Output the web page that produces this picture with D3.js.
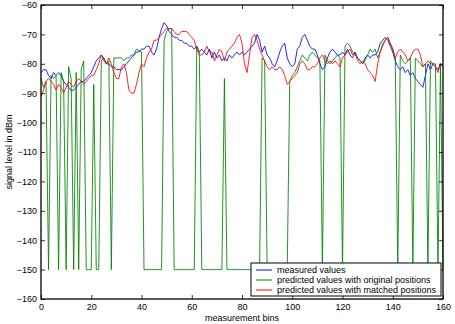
<!DOCTYPE html>
<html>
<head>
<meta charset="utf-8">
<script src="https://cdn.jsdelivr.net/npm/d3@7"></script>
<style>
  body { margin: 0; background: #fff; }
  svg { display: block; font-family: "Liberation Sans", Arial, sans-serif; }
</style>
</head>
<body>
<svg width="455" height="324"></svg>
<script>
// measurement bins 0..160
var measured = [
  -83,-82,-82,-84,-85,-83,-84,-83,-84,-86,-87,-88,-89,-89,-88,-87,-86,-86,-85,-84,
  -83,-81,-79,-78,-77,-78,-80,-80,-81,-81,-82,-82,-82,-81,-80,-79,-78,-77,-76,-76,
  -75,-75,-74,-74,-76,-77,-75,-71,-68,-66,-67,-69,-70,-71,-71,-72,-72,-73,-73,-74,
  -74,-75,-74,-76,-75,-76,-77,-75,-78,-76,-78,-77,-79,-78,-79,-77,-78,-77,-76,-77,
  -76,-77,-76,-75,-74,-73,-70,-72,-76,-74,-77,-78,-80,-81,-79,-76,-74,-73,-78,-80,
  -81,-80,-75,-74,-71,-70,-72,-74,-75,-75,-77,-80,-82,-81,-78,-76,-75,-76,-77,-77,
  -76,-77,-75,-77,-78,-76,-78,-79,-80,-78,-77,-78,-77,-77,-76,-73,-72,-71,-72,-74,
  -76,-79,-81,-82,-81,-83,-82,-84,-83,-85,-86,-87,-88,-84,-80,-82,-80,-81,-82,-80,
  -81
];

var predOriginal = [
  -85,-88,-86,-150,-84,-85,-84,-150,-83,-86,-150,-81,-85,-150,-83,-150,-82,-79,-150,-150,
  -150,-87,-150,-150,-79,-78,-80,-79,-150,-78,-78,-78,-78,-79,-78,-78,-77,-77,-75,-75.5,
  -76,-150,-150,-150,-150,-150,-150,-150,-150,-72,-69,-68,-68,-150,-150,-150,-150,-150,-150,-150,
  -150,-150,-74,-76,-150,-150,-150,-150,-150,-150,-150,-150,-150,-85,-150,-150,-150,-150,-150,-150,
  -150,-150,-150,-150,-150,-150,-150,-150,-78,-79,-150,-150,-150,-150,-150,-150,-150,-150,-150,-86,
  -84,-83,-81,-79,-77,-78,-79,-77,-76,-77,-78,-79,-150,-77,-79,-80,-79,-78,-77,-78,
  -150,-74,-73,-74,-76,-77,-78,-79,-80,-79,-77,-75,-76,-75,-78,-76,-73,-72,-71,-73,
  -75,-78,-150,-77,-79,-80,-79,-78,-150,-78,-79,-80,-81,-80,-150,-79,-80,-80,-150,-80,
  -150
];

var predMatched = [
  -91,-89,-86,-85,-86,-87,-89,-87,-88,-90,-88,-86,-87,-88,-86,-85,-86,-87,-86,-85,
  -84,-84,-82,-80,-77,-79,-80,-78,-80,-83,-85,-85,-81,-80,-83,-89,-90,-90,-87,-83,
  -80,-81,-78,-76,-75,-72,-72,-71,-70,-69,-68,-68,-68,-69,-70,-70,-69,-69,-69,-70,
  -71,-72,-75,-77,-77,-76,-74,-76,-76,-79,-77,-75,-76,-79,-76,-75,-74,-73,-71,-70,
  -73,-80,-83,-77,-71,-70,-72,-75,-77,-79,-81,-82,-81,-82,-82,-81,-82,-84,-87,-86,
  -85,-84,-83,-80,-79,-80,-82,-82,-81,-81,-80,-78,-77,-79,-80,-79,-80,-79,-80,-81,
  -78,-77,-76,-75,-77,-76,-79,-80,-79,-80,-82,-83,-84,-86,-80,-76,-74,-72,-71,-73,
  -75,-78,-76,-75,-76,-77,-79,-78,-76,-75,-75,-77,-81,-80,-79,-80,-80,-81,-83,-80,
  -81
];

var seriesNames = [
  'measured values',
  'predicted values with original positions',
  'predicted values with matched positions'
];
var seriesColors = ['#0000ff', '#008000', '#ff0000'];
var xTicks = [0, 20, 40, 60, 80, 100, 120, 140, 160];
var yTicks = [-160, -150, -140, -130, -120, -110, -100, -90, -80, -70, -60];

var plotLeft = 41, plotRight = 443, plotTop = 5, plotBottom = 299;

var svg = d3.select('svg');

var x = d3.scaleLinear().domain([0, 160]).range([plotLeft, plotRight]);
var y = d3.scaleLinear().domain([-160, -60]).range([plotBottom, plotTop]);

function fmt(d) { return d < 0 ? '\u2212' + Math.abs(d) : '' + d; }

// series
var allSeries = [measured, predOriginal, predMatched];
var line = d3.line()
  .x(function(d, i) { return x(i); })
  .y(function(d) { return y(d); });

svg.append('g')
  .selectAll('path')
  .data(allSeries)
  .enter()
  .append('path')
  .attr('d', line)
  .attr('fill', 'none')
  .attr('stroke', function(d, i) { return seriesColors[i]; })
  .attr('stroke-width', 1)
  .attr('stroke-opacity', 0.85)
  .attr('stroke-linejoin', 'round');

// frame
svg.append('rect')
  .attr('x', plotLeft).attr('y', plotTop)
  .attr('width', plotRight - plotLeft).attr('height', plotBottom - plotTop)
  .attr('fill', 'none').attr('stroke', '#000').attr('stroke-width', 1.3);

// axes with inward ticks
var axisStyle = function(g) {
  g.select('.domain').remove();
  g.selectAll('.tick line').attr('stroke', '#000').attr('stroke-width', 0.8);
  g.selectAll('text').attr('font-size', 9).attr('fill', '#000')
    .attr('font-family', '"Liberation Sans", Arial, sans-serif');
};

svg.append('g')
  .attr('transform', 'translate(0,' + plotBottom + ')')
  .call(d3.axisBottom(x).tickValues(xTicks).tickFormat(fmt).tickSizeInner(-4).tickPadding(5))
  .call(axisStyle);

svg.append('g')
  .attr('transform', 'translate(0,' + plotTop + ')')
  .call(d3.axisTop(x).tickValues(xTicks).tickFormat('').tickSizeInner(-4))
  .call(axisStyle);

svg.append('g')
  .attr('transform', 'translate(' + plotLeft + ',0)')
  .call(d3.axisLeft(y).tickValues(yTicks).tickFormat(fmt).tickSizeInner(-4).tickPadding(4))
  .call(axisStyle);

svg.append('g')
  .attr('transform', 'translate(' + plotRight + ',0)')
  .call(d3.axisRight(y).tickValues(yTicks).tickFormat('').tickSizeInner(-4))
  .call(axisStyle);

// axis titles
svg.append('text')
  .attr('x', (plotLeft + plotRight) / 2).attr('y', 321)
  .attr('text-anchor', 'middle').attr('font-size', 9)
  .text('measurement bins');

svg.append('text')
  .attr('transform', 'translate(12,' + ((plotTop + plotBottom) / 2) + ') rotate(-90)')
  .attr('text-anchor', 'middle').attr('font-size', 9)
  .text('signal level in dBm');

// legend
var legend = svg.append('g').attr('transform', 'translate(251,263)');
legend.append('rect')
  .attr('width', 190).attr('height', 33)
  .attr('fill', '#fff').attr('stroke', '#000').attr('stroke-width', 1);

var items = legend.selectAll('g.item')
  .data(seriesNames)
  .enter()
  .append('g')
  .attr('class', 'item')
  .attr('transform', function(d, i) { return 'translate(0,' + (7 + i * 10) + ')'; });

items.append('line')
  .attr('x1', 5).attr('x2', 21)
  .attr('stroke', function(d, i) { return seriesColors[i]; })
  .attr('stroke-width', 1);

items.append('text')
  .attr('x', 26).attr('y', 3)
  .attr('font-size', 9)
  .text(function(d) { return d; });
</script>
</body>
</html>
